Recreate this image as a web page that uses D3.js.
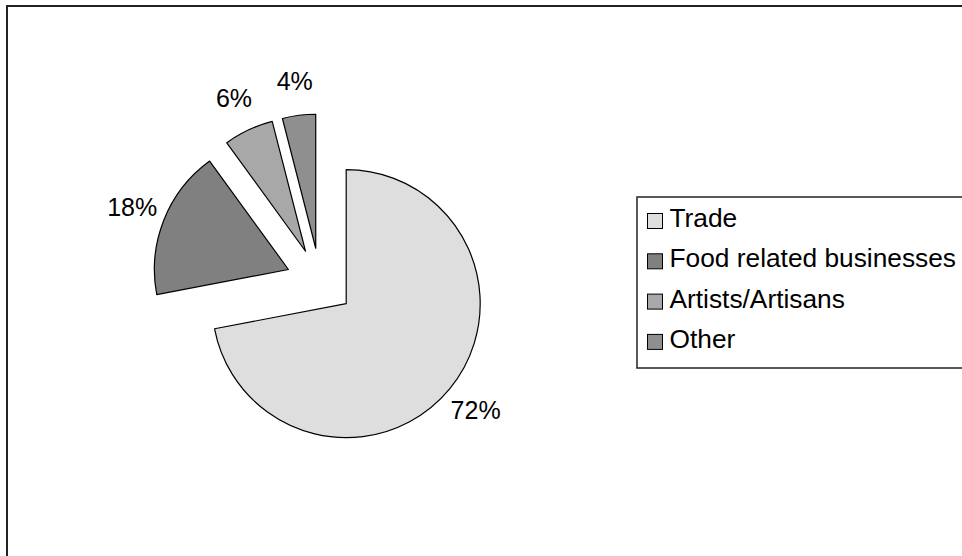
<!DOCTYPE html>
<html>
<head>
<meta charset="utf-8">
<script src="https://cdn.jsdelivr.net/npm/d3@7"></script>
<style>
  body { margin: 0; background: #fff; }
  text { font-family: "Liberation Sans", Arial, sans-serif; fill: #000; }
</style>
</head>
<body>
<script>
// data
const categories = ["Trade", "Food related businesses", "Artists/Artisans", "Other"];
const values = [72, 18, 6, 4];
const colors = ["#dedede", "#808080", "#a8a8a8", "#8f8f8f"];

const width = 962, height = 556;
const cx = 320, cy = 282, radius = 134, explode = 34, labelR = 202;

const svg = d3.select("body").append("svg")
    .attr("width", width).attr("height", height);

// outer chart frame (runs off right and bottom)
svg.append("rect")
    .attr("x", 7).attr("y", 6)
    .attr("width", 1000).attr("height", 600)
    .attr("fill", "none").attr("stroke", "#222").attr("stroke-width", 2);

const pie = d3.pie().sort(null).value(d => d)(values);
const arc = d3.arc().innerRadius(0).outerRadius(radius);

const g = svg.append("g").attr("transform", `translate(${cx},${cy})`);

function dir(d) {
  const a = (d.startAngle + d.endAngle) / 2;
  return [Math.sin(a), -Math.cos(a)];
}

g.selectAll("path").data(pie).enter().append("path")
    .attr("d", arc)
    .attr("transform", d => { const v = dir(d); return `translate(${v[0] * explode},${v[1] * explode})`; })
    .attr("fill", (d, i) => colors[i])
    .attr("stroke", "#000").attr("stroke-width", 1.2)
    .attr("stroke-linejoin", "round");

g.selectAll("text.lbl").data(pie).enter().append("text")
    .attr("class", "lbl")
    .attr("x", d => dir(d)[0] * labelR)
    .attr("y", d => dir(d)[1] * labelR)
    .attr("dy", "0.33em")
    .attr("text-anchor", "middle")
    .attr("font-size", 25)
    .text(d => d.value + "%");

// legend
const lg = svg.append("g");
lg.append("rect")
    .attr("x", 637).attr("y", 197).attr("width", 340).attr("height", 171)
    .attr("fill", "#fff").attr("stroke", "#222").attr("stroke-width", 1.5);

const rows = lg.selectAll("g.row").data(categories).enter().append("g")
    .attr("class", "row")
    .attr("transform", (d, i) => `translate(0,${227 + i * 40.3})`);

rows.append("rect")
    .attr("x", 647.5).attr("y", -13.5).attr("width", 15).attr("height", 15)
    .attr("fill", (d, i) => colors[i])
    .attr("stroke", "#000").attr("stroke-width", 1);

rows.append("text")
    .attr("x", 669.5).attr("y", 0)
    .attr("font-size", 26.3)
    .text(d => d);
</script>
</body>
</html>
